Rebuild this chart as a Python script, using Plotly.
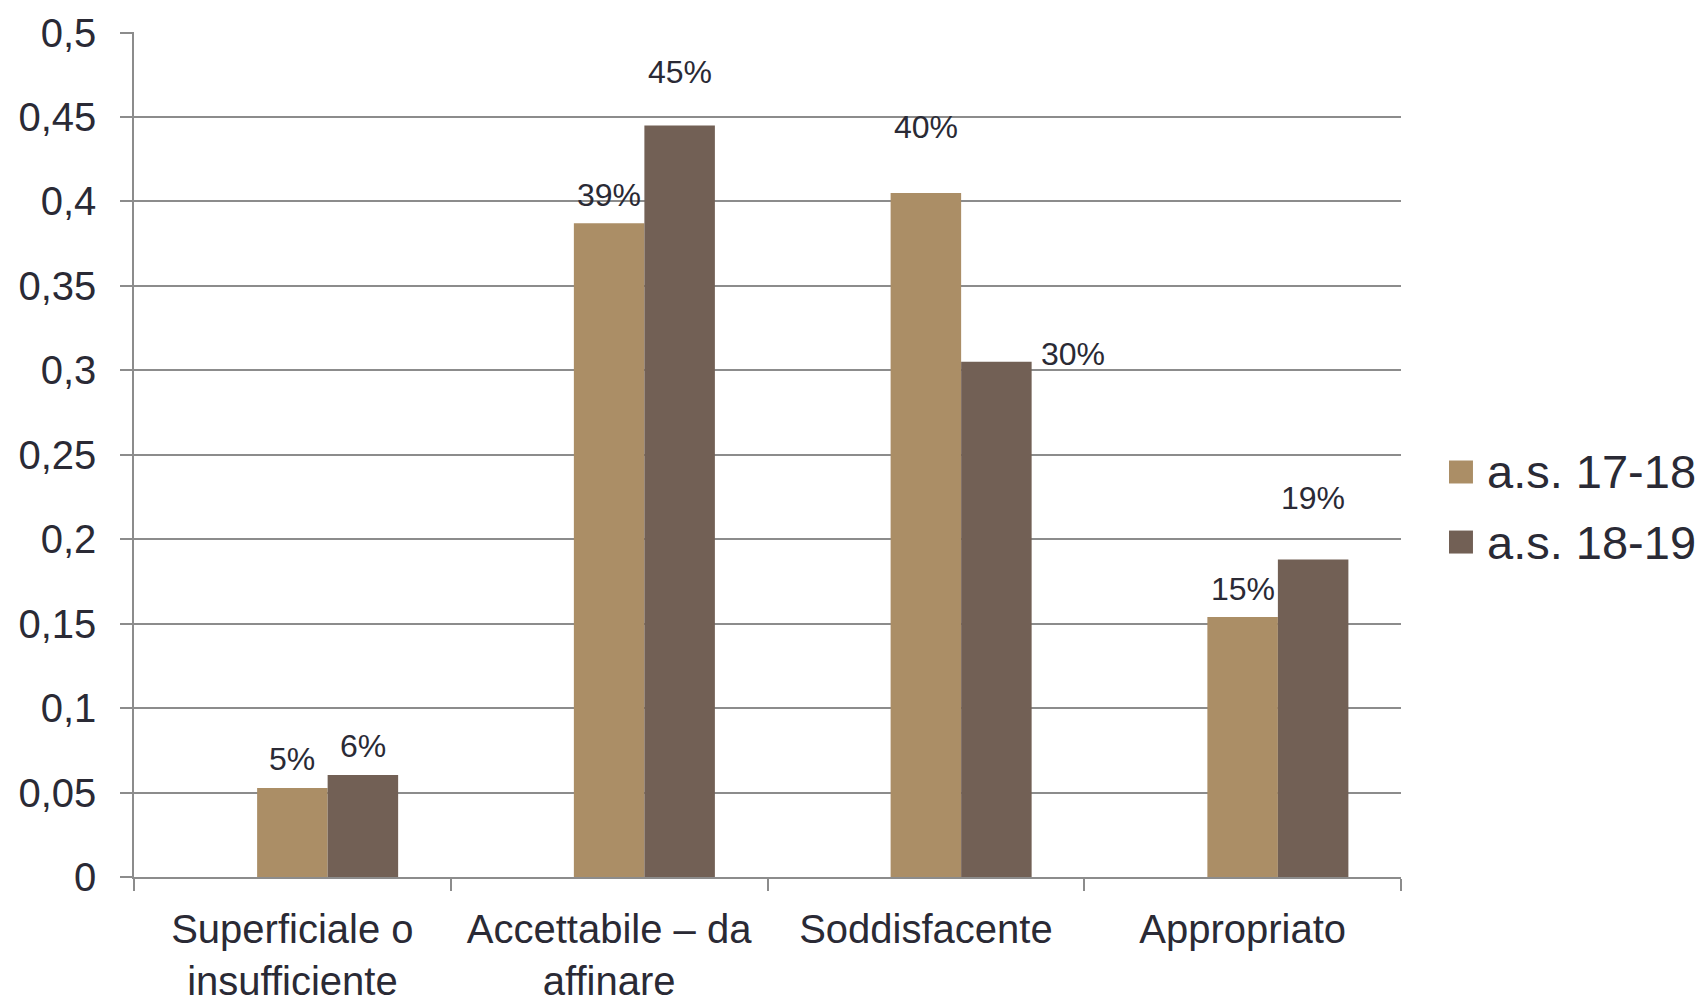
import plotly.graph_objects as go

categories = ["Superficiale o<br>insufficiente", "Accettabile – da<br>affinare", "Soddisfacente", "Appropriato"]
series_names = ["a.s. 17-18", "a.s. 18-19"]
values_1718 = [0.0527, 0.387, 0.405, 0.154]
values_1819 = [0.0604, 0.445, 0.305, 0.188]
labels_1718 = ["5%", "39%", "40%", "15%"]
labels_1819 = ["6%", "45%", "30%", "19%"]
y_ticks = [0, 0.05, 0.1, 0.15, 0.2, 0.25, 0.3, 0.35, 0.4, 0.45, 0.5]

# label placement offsets (pixels) relative to bar top centre
shift_1718 = [(0, 29), (0, 28), (0, 66), (0, 28)]
shift_1819 = [(0, 29), (0, 53), (77, 8), (0, 61)]

C1 = "#AB8E66"
C2 = "#726055"
TXT = "#2a2a35"
GRID = "#8c8c8c"
FONT = "Liberation Sans, Arial, sans-serif"
BW = 0.2226

fig = go.Figure()
fig.add_trace(go.Bar(x=categories, y=values_1718, name=series_names[0], marker_color=C1,
                     marker_line_width=0, width=BW, offset=-BW / 2, showlegend=False))
fig.add_trace(go.Bar(x=categories, y=values_1819, name=series_names[1], marker_color=C2,
                     marker_line_width=0, width=BW, offset=BW / 2, showlegend=False))

anns = []
for i, (v, t, s) in enumerate(zip(values_1718, labels_1718, shift_1718)):
    anns.append(dict(x=i, y=v, xref="x", yref="y", text=t, showarrow=False,
                     xshift=s[0], yshift=s[1], xanchor="center", yanchor="middle",
                     font=dict(size=32, color=TXT, family=FONT)))
for i, (v, t, s) in enumerate(zip(values_1819, labels_1819, shift_1819)):
    anns.append(dict(x=i + BW, y=v, xref="x", yref="y", text=t, showarrow=False,
                     xshift=s[0], yshift=s[1], xanchor="center", yanchor="middle",
                     font=dict(size=32, color=TXT, family=FONT)))

# manual legend
shapes = []
leg_y = [0.4793, 0.3964]
for name, col, yc in zip(series_names, [C1, C2], leg_y):
    shapes.append(dict(type="rect", xref="paper", yref="paper", x0=1.0379, x1=1.0568,
                       y0=yc - 0.0136, y1=yc + 0.0136, fillcolor=col, line_width=0))
    anns.append(dict(x=1.0660, y=yc, xref="paper", yref="paper", text=name, showarrow=False,
                     xanchor="left", yanchor="middle", font=dict(size=47, color=TXT, family=FONT)))

fig.update_layout(
    width=1702, height=997,
    margin=dict(l=134, r=301, t=32, b=120, autoexpand=False),
    plot_bgcolor="white", paper_bgcolor="white",
    separators=",.",
    barmode="overlay",
    showlegend=False,
    annotations=anns,
    shapes=shapes,
    font=dict(family=FONT, color=TXT),
)
fig.update_xaxes(type="category", showgrid=False, showline=True, linecolor=GRID, linewidth=1.5,
                 ticks="outside", tickson="boundaries", ticklen=12, tickcolor=GRID, tickwidth=1.5,
                 ticklabelstandoff=16, automargin=False,
                 tickfont=dict(size=40, color=TXT, family=FONT), range=[-0.5, 3.5])
fig.update_yaxes(range=[0, 0.5003], tickvals=y_ticks, showgrid=True, gridcolor=GRID, gridwidth=1.5,
                 showline=True, linecolor=GRID, linewidth=1.5, zeroline=False,
                 ticks="outside", ticklen=12, tickcolor=GRID, tickwidth=1.5,
                 ticklabelstandoff=16, automargin=False,
                 tickfont=dict(size=40, color=TXT, family=FONT))

fig.write_html(
    "out.html",
    config={"displayModeBar": False},
    post_script="document.body.style.margin='0';document.body.style.overflow='hidden';",
)
